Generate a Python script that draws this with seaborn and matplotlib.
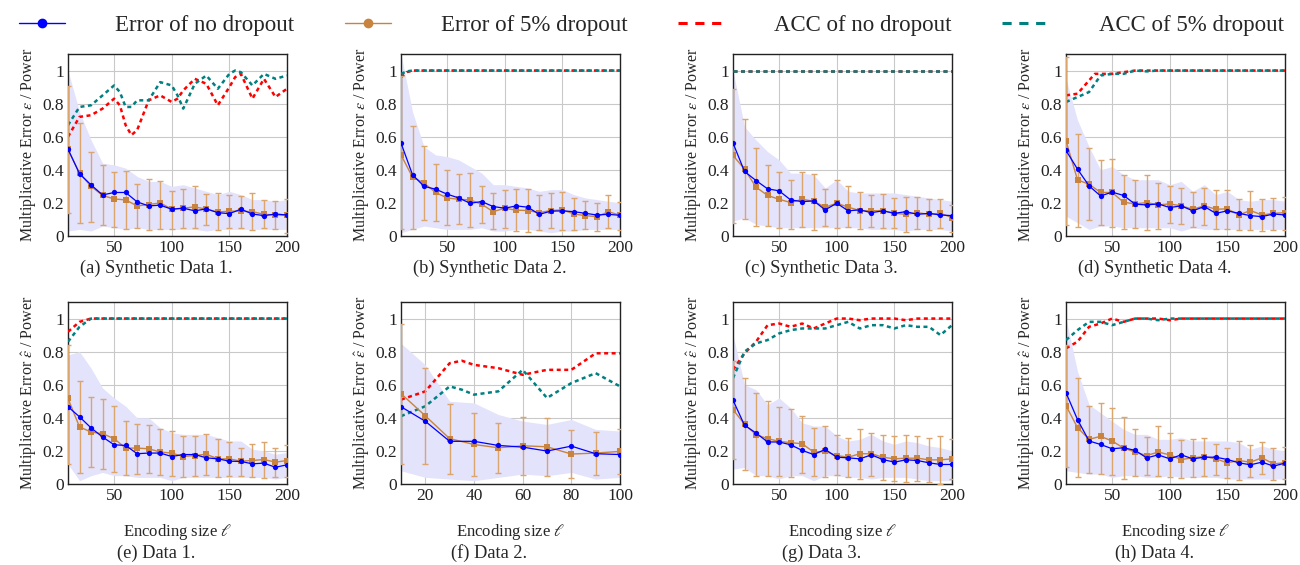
import matplotlib
matplotlib.use("Agg")
import matplotlib.pyplot as plt
from matplotlib.lines import Line2D
from matplotlib.ticker import FuncFormatter
import seaborn as sns

# encoding sizes
x200 = [10, 20, 30, 40, 50, 60, 70, 80, 90, 100, 110, 120, 130, 140, 150, 160, 170, 180, 190, 200]
x100 = [10, 20, 30, 40, 50, 60, 70, 80, 90, 100]

# (a) Synthetic Data 1
a_err0 = [0.525, 0.376, 0.309, 0.248, 0.263, 0.263, 0.206, 0.182, 0.186, 0.162, 0.168, 0.152, 0.164, 0.141, 0.135, 0.162, 0.133, 0.123, 0.133, 0.127]
a_band_lo = [0.03, 0.04, 0.03, 0.06, 0.05, 0.04, 0.05, 0.04, 0.04, 0.04, 0.04, 0.04, 0.03, 0.04, 0.04, 0.04, 0.04, 0.04, 0.04, 0.04]
a_band_hi = [1.0, 0.75, 0.58, 0.44, 0.43, 0.41, 0.36, 0.33, 0.33, 0.30, 0.31, 0.29, 0.27, 0.25, 0.27, 0.25, 0.22, 0.22, 0.21, 0.22]
a_err5 = [0.523, 0.38, 0.30, 0.245, 0.224, 0.218, 0.182, 0.19, 0.20, 0.162, 0.168, 0.176, 0.162, 0.145, 0.15, 0.15, 0.147, 0.131, 0.127, 0.125]
a_bar_lo = [0.14, 0.08, 0.087, 0.065, 0.057, 0.04, 0.048, 0.036, 0.04, 0.04, 0.046, 0.05, 0.067, 0.036, 0.048, 0.05, 0.038, 0.046, 0.042, 0.02]
a_bar_hi = [0.905, 0.68, 0.51, 0.43, 0.388, 0.392, 0.313, 0.343, 0.33, 0.275, 0.283, 0.30, 0.253, 0.259, 0.25, 0.24, 0.259, 0.216, 0.212, 0.226]
a_acc_x = [10, 20, 30, 40, 50, 55, 60, 65, 70, 80, 90, 100, 105, 110, 120, 130, 140, 150, 155, 160, 170, 180, 190, 200]
a_acc0 = [0.60, 0.72, 0.73, 0.77, 0.83, 0.79, 0.67, 0.61, 0.64, 0.82, 0.85, 0.81, 0.83, 0.88, 0.95, 0.92, 0.79, 0.90, 0.96, 0.98, 0.83, 0.95, 0.84, 0.89]
a_acc5 = [0.67, 0.78, 0.79, 0.85, 0.91, 0.87, 0.78, 0.78, 0.82, 0.82, 0.93, 0.91, 0.85, 0.77, 0.92, 0.97, 0.89, 0.98, 1.0, 0.99, 0.91, 0.98, 0.95, 0.97]

# (b) Synthetic Data 2
b_err0 = [0.562, 0.37, 0.30, 0.283, 0.253, 0.23, 0.198, 0.208, 0.178, 0.168, 0.182, 0.174, 0.131, 0.15, 0.152, 0.147, 0.137, 0.127, 0.131, 0.125]
b_band_lo = [0.02, 0.04, 0.06, 0.05, 0.04, 0.04, 0.04, 0.05, 0.03, 0.03, 0.04, 0.04, 0.03, 0.02, 0.03, 0.03, 0.04, 0.04, 0.04, 0.04]
b_band_hi = [1.1, 0.75, 0.54, 0.49, 0.48, 0.46, 0.42, 0.38, 0.31, 0.31, 0.30, 0.29, 0.27, 0.28, 0.28, 0.25, 0.23, 0.22, 0.21, 0.20]
b_err5 = [0.49, 0.356, 0.32, 0.263, 0.23, 0.222, 0.218, 0.192, 0.147, 0.168, 0.156, 0.154, 0.141, 0.154, 0.158, 0.133, 0.123, 0.117, 0.147, 0.125]
b_bar_lo = [0.04, 0.044, 0.097, 0.093, 0.067, 0.071, 0.057, 0.077, 0.04, 0.05, 0.03, 0.026, 0.036, 0.046, 0.036, 0.036, 0.04, 0.03, 0.046, 0.036]
b_bar_hi = [0.965, 0.663, 0.545, 0.436, 0.396, 0.374, 0.382, 0.30, 0.259, 0.279, 0.287, 0.285, 0.245, 0.259, 0.265, 0.232, 0.212, 0.202, 0.245, 0.208]
b_acc_x = [10, 15, 20, 30, 40, 50, 60, 70, 80, 90, 100, 110, 120, 130, 140, 150, 160, 170, 180, 190, 200]
b_acc0 = [0.96, 0.99] + [1.0] * 19
b_acc5 = [0.98, 0.995] + [1.0] * 19

# (c) Synthetic Data 3
c_err0 = [0.562, 0.39, 0.335, 0.285, 0.273, 0.218, 0.208, 0.212, 0.158, 0.198, 0.152, 0.158, 0.141, 0.152, 0.137, 0.147, 0.131, 0.137, 0.127, 0.123]
c_band_lo = [0.09, 0.11, 0.07, 0.06, 0.05, 0.05, 0.05, 0.05, 0.05, 0.05, 0.05, 0.05, 0.04, 0.04, 0.04, 0.03, 0.04, 0.04, 0.04, 0.03]
c_band_hi = [1.0, 0.66, 0.58, 0.51, 0.46, 0.38, 0.38, 0.37, 0.29, 0.34, 0.27, 0.26, 0.26, 0.26, 0.26, 0.25, 0.24, 0.23, 0.22, 0.21]
c_err5 = [0.487, 0.404, 0.295, 0.245, 0.222, 0.202, 0.222, 0.21, 0.174, 0.198, 0.174, 0.154, 0.152, 0.154, 0.137, 0.131, 0.141, 0.131, 0.137, 0.111]
c_bar_lo = [0.081, 0.105, 0.063, 0.06, 0.05, 0.044, 0.057, 0.036, 0.063, 0.05, 0.053, 0.042, 0.057, 0.05, 0.046, 0.022, 0.042, 0.036, 0.046, 0.022]
c_bar_hi = [0.889, 0.707, 0.529, 0.43, 0.386, 0.34, 0.388, 0.376, 0.285, 0.34, 0.30, 0.265, 0.248, 0.253, 0.232, 0.238, 0.238, 0.224, 0.224, 0.188]
c_acc_x = x200
c_acc0 = [1.0] * 20
c_acc5 = [1.0] * 20

# (d) Synthetic Data 4
d_err0 = [0.517, 0.404, 0.303, 0.242, 0.265, 0.245, 0.192, 0.188, 0.194, 0.172, 0.182, 0.152, 0.178, 0.137, 0.152, 0.137, 0.123, 0.117, 0.133, 0.127]
d_band_lo = [0.12, 0.08, 0.04, 0.06, 0.06, 0.05, 0.05, 0.05, 0.05, 0.05, 0.03, 0.05, 0.04, 0.04, 0.04, 0.04, 0.04, 0.04, 0.04, 0.04]
d_band_hi = [0.95, 0.70, 0.54, 0.40, 0.42, 0.37, 0.34, 0.34, 0.34, 0.31, 0.33, 0.27, 0.31, 0.25, 0.27, 0.22, 0.21, 0.22, 0.22, 0.21]
d_err5 = [0.576, 0.339, 0.313, 0.263, 0.263, 0.204, 0.194, 0.202, 0.188, 0.194, 0.182, 0.162, 0.182, 0.162, 0.164, 0.127, 0.154, 0.127, 0.137, 0.141]
d_bar_lo = [0.067, 0.057, 0.097, 0.067, 0.057, 0.04, 0.046, 0.036, 0.042, 0.081, 0.073, 0.057, 0.067, 0.04, 0.04, 0.036, 0.036, 0.03, 0.036, 0.036]
d_bar_hi = [1.08, 0.618, 0.531, 0.457, 0.465, 0.366, 0.34, 0.366, 0.323, 0.30, 0.289, 0.267, 0.293, 0.279, 0.279, 0.224, 0.273, 0.224, 0.232, 0.238]
d_acc_x = [10, 20, 30, 35, 40, 50, 60, 70, 80, 90, 100, 110, 120, 130, 140, 150, 160, 170, 180, 190, 200]
d_acc0 = [0.85, 0.86, 0.94, 0.98, 0.98, 0.98, 0.99, 1.0, 1.0, 1.0, 1.0, 1.0, 1.0, 1.0, 1.0, 1.0, 1.0, 1.0, 1.0, 1.0, 1.0]
d_acc5 = [0.81, 0.84, 0.87, 0.92, 0.97, 0.98, 0.98, 1.0, 0.995, 1.0, 1.0, 1.0, 1.0, 1.0, 1.0, 1.0, 1.0, 1.0, 1.0, 1.0, 1.0]

# (e) Data 1
e_err0 = [0.467, 0.406, 0.339, 0.284, 0.237, 0.233, 0.183, 0.187, 0.187, 0.166, 0.178, 0.178, 0.158, 0.152, 0.138, 0.136, 0.122, 0.126, 0.101, 0.116]
e_band_lo = [0.12, 0.02, 0.05, 0.07, 0.05, 0.05, 0.04, 0.04, 0.04, 0.02, 0.04, 0.04, 0.04, 0.04, 0.04, 0.04, 0.04, 0.04, 0.03, 0.04]
e_band_hi = [0.78, 0.80, 0.70, 0.58, 0.52, 0.47, 0.40, 0.40, 0.34, 0.31, 0.30, 0.30, 0.30, 0.28, 0.26, 0.26, 0.21, 0.20, 0.18, 0.19]
e_err5 = [0.517, 0.345, 0.314, 0.304, 0.274, 0.217, 0.217, 0.213, 0.193, 0.187, 0.166, 0.172, 0.18, 0.152, 0.152, 0.138, 0.142, 0.148, 0.132, 0.142]
e_bar_lo = [0.12, 0.067, 0.101, 0.091, 0.075, 0.057, 0.061, 0.067, 0.057, 0.051, 0.041, 0.047, 0.057, 0.041, 0.047, 0.047, 0.041, 0.037, 0.045, 0.045]
e_bar_hi = [0.84, 0.625, 0.527, 0.511, 0.473, 0.379, 0.365, 0.359, 0.331, 0.318, 0.288, 0.29, 0.30, 0.27, 0.254, 0.219, 0.239, 0.254, 0.217, 0.233]
e_acc_x = x200
e_acc0 = [0.92, 0.98] + [1.0] * 18
e_acc5 = [0.86, 0.95] + [1.0] * 18

# (f) Data 2
f_err0 = [0.467, 0.379, 0.258, 0.258, 0.233, 0.223, 0.199, 0.229, 0.183, 0.178]
f_band_lo = [0.08, 0.04, 0.03, 0.02, 0.04, 0.06, 0.05, 0.07, 0.03, 0.04]
f_band_hi = [0.85, 0.72, 0.50, 0.49, 0.42, 0.38, 0.36, 0.39, 0.33, 0.32]
f_err5 = [0.546, 0.412, 0.274, 0.239, 0.219, 0.231, 0.225, 0.181, 0.187, 0.197]
f_bar_lo = [0.122, 0.122, 0.061, 0.051, 0.067, 0.055, 0.051, 0.034, 0.057, 0.061]
f_bar_hi = [0.968, 0.70, 0.483, 0.43, 0.371, 0.406, 0.396, 0.329, 0.314, 0.331]
f_acc_x = [10, 20, 30, 35, 40, 50, 60, 70, 80, 90, 100]
f_acc0 = [0.51, 0.56, 0.73, 0.745, 0.72, 0.70, 0.66, 0.69, 0.69, 0.79, 0.79]
f_acc5 = [0.41, 0.47, 0.59, 0.57, 0.54, 0.56, 0.69, 0.52, 0.61, 0.67, 0.59]

# (g) Data 3
g_err0 = [0.507, 0.355, 0.308, 0.254, 0.254, 0.237, 0.203, 0.178, 0.209, 0.162, 0.158, 0.152, 0.176, 0.148, 0.132, 0.146, 0.142, 0.128, 0.118, 0.118]
g_band_lo = [0.09, 0.10, 0.05, 0.05, 0.03, 0.05, 0.05, 0.02, 0.05, 0.05, 0.04, 0.04, 0.03, 0.04, 0.04, 0.04, 0.03, 0.02, 0.02, 0.02]
g_band_hi = [0.90, 0.60, 0.57, 0.48, 0.52, 0.46, 0.37, 0.35, 0.35, 0.29, 0.26, 0.27, 0.30, 0.26, 0.24, 0.26, 0.25, 0.23, 0.22, 0.20]
g_err5 = [0.45, 0.361, 0.298, 0.274, 0.258, 0.25, 0.243, 0.193, 0.197, 0.172, 0.162, 0.183, 0.183, 0.162, 0.152, 0.156, 0.156, 0.146, 0.146, 0.152]
g_bar_lo = [0.152, 0.085, 0.047, 0.051, 0.047, 0.045, 0.067, 0.047, 0.041, 0.055, 0.041, 0.03, 0.051, 0.024, 0.016, 0.014, 0.016, 0.01, 0.0, 0.03]
g_bar_hi = [0.746, 0.639, 0.552, 0.501, 0.467, 0.456, 0.41, 0.339, 0.349, 0.294, 0.28, 0.335, 0.31, 0.294, 0.288, 0.294, 0.29, 0.278, 0.288, 0.27]
g_acc_x = x200
g_acc0 = [0.69, 0.79, 0.86, 0.96, 0.97, 0.95, 0.97, 0.94, 0.97, 1.0, 1.0, 0.99, 1.0, 1.0, 1.0, 0.99, 1.0, 1.0, 1.0, 1.0]
g_acc5 = [0.64, 0.80, 0.85, 0.87, 0.91, 0.93, 0.94, 0.94, 0.94, 0.96, 0.98, 0.94, 0.96, 0.96, 0.94, 0.96, 0.95, 0.95, 0.90, 0.96]

# (h) Data 4
h_err0 = [0.552, 0.389, 0.26, 0.239, 0.213, 0.219, 0.203, 0.158, 0.176, 0.152, 0.176, 0.152, 0.162, 0.162, 0.148, 0.128, 0.116, 0.132, 0.108, 0.126]
h_band_lo = [0.08, 0.07, 0.06, 0.06, 0.04, 0.05, 0.05, 0.04, 0.04, 0.05, 0.04, 0.04, 0.04, 0.04, 0.03, 0.03, 0.03, 0.03, 0.03, 0.03]
h_band_hi = [1.0, 0.68, 0.48, 0.43, 0.38, 0.33, 0.30, 0.30, 0.27, 0.27, 0.28, 0.26, 0.26, 0.26, 0.26, 0.25, 0.21, 0.23, 0.21, 0.20]
h_err5 = [0.473, 0.341, 0.27, 0.288, 0.26, 0.217, 0.193, 0.172, 0.193, 0.176, 0.148, 0.158, 0.166, 0.152, 0.128, 0.142, 0.132, 0.158, 0.122, 0.128]
h_bar_lo = [0.105, 0.041, 0.065, 0.061, 0.057, 0.03, 0.051, 0.057, 0.051, 0.045, 0.034, 0.041, 0.051, 0.055, 0.037, 0.026, 0.045, 0.061, 0.026, 0.03]
h_bar_hi = [0.84, 0.639, 0.473, 0.487, 0.46, 0.402, 0.335, 0.284, 0.351, 0.308, 0.264, 0.274, 0.278, 0.243, 0.219, 0.258, 0.233, 0.254, 0.217, 0.223]
h_acc_x = x200
h_acc0 = [0.82, 0.86, 0.95, 0.97, 1.0, 0.98, 1.0, 1.0, 1.0, 0.99] + [1.0] * 10
h_acc5 = [0.87, 0.93, 0.98, 0.98, 0.96, 0.98, 1.0, 1.0, 0.99, 1.0] + [1.0] * 10

captions = ["(a) Synthetic Data 1.", "(b) Synthetic Data 2.", "(c) Synthetic Data 3.", "(d) Synthetic Data 4.",
            "(e) Data 1.", "(f) Data 2.", "(g) Data 3.", "(h) Data 4."]

panels = [
    (x200, a_err0, a_band_lo, a_band_hi, a_err5, a_bar_lo, a_bar_hi, a_acc_x, a_acc0, a_acc5),
    (x200, b_err0, b_band_lo, b_band_hi, b_err5, b_bar_lo, b_bar_hi, b_acc_x, b_acc0, b_acc5),
    (x200, c_err0, c_band_lo, c_band_hi, c_err5, c_bar_lo, c_bar_hi, c_acc_x, c_acc0, c_acc5),
    (x200, d_err0, d_band_lo, d_band_hi, d_err5, d_bar_lo, d_bar_hi, d_acc_x, d_acc0, d_acc5),
    (x200, e_err0, e_band_lo, e_band_hi, e_err5, e_bar_lo, e_bar_hi, e_acc_x, e_acc0, e_acc5),
    (x100, f_err0, f_band_lo, f_band_hi, f_err5, f_bar_lo, f_bar_hi, f_acc_x, f_acc0, f_acc5),
    (x200, g_err0, g_band_lo, g_band_hi, g_err5, g_bar_lo, g_bar_hi, g_acc_x, g_acc0, g_acc5),
    (x200, h_err0, h_band_lo, h_band_hi, h_err5, h_bar_lo, h_bar_hi, h_acc_x, h_acc0, h_acc5),
]

BLUE = "#0000ff"
ORANGE = "#c8843f"
ORANGE_LIGHT = "#dba56e"
RED = "#ff0000"
TEAL = "#008080"
BAND = "#e3e3fb"

sns.set_theme(style="whitegrid")
plt.rcParams['font.family'] = ['Liberation Serif', 'DejaVu Serif']
plt.rcParams['mathtext.fontset'] = 'stix'

W, H = 1300, 565
fig = plt.figure(figsize=(13, 5.65), dpi=100)

lefts = [68, 401, 733, 1066]
tops = [54, 302]
aw, ah = 219, 182
cap_y = [268, 553]   # caption centres, pixels from top

for i, (xs, err0, blo, bhi, err5, elo, ehi, ax_acc, acc0, acc5) in enumerate(panels):
    row, col = divmod(i, 4)
    left = lefts[col]
    top = tops[row]
    ax = fig.add_axes([left / W, (H - top - ah) / H, aw / W, ah / H])

    ax.fill_between(xs, blo, bhi, color=BAND, lw=0, zorder=1)
    sns.lineplot(x=ax_acc, y=acc0, ax=ax, color=RED, lw=1.8, linestyle=(0, (1.6, 1.4)), zorder=3)
    sns.lineplot(x=ax_acc, y=acc5, ax=ax, color=TEAL, lw=1.8, linestyle=(0, (1.6, 1.4)), zorder=3)
    yerr = [[v - lo for v, lo in zip(err5, elo)], [hi - v for v, hi in zip(err5, ehi)]]
    ax.errorbar(xs, err5, yerr=yerr, fmt='none', ecolor=ORANGE_LIGHT, elinewidth=1.0,
                capsize=2, capthick=1.0, zorder=4)
    sns.lineplot(x=xs, y=err5, ax=ax, color=ORANGE, lw=1.0, marker='s', markersize=4,
                 markeredgewidth=0, zorder=5)
    sns.lineplot(x=xs, y=err0, ax=ax, color=BLUE, lw=0.9, marker='o', markersize=3.8,
                 markeredgewidth=0, zorder=6)

    ax.set_xlim(xs[0], xs[-1])
    ax.set_ylim(0, 1.1)
    ax.set_yticks([0, 0.2, 0.4, 0.6, 0.8, 1.0])
    if xs[-1] == 100:
        ax.set_xticks([20, 40, 60, 80, 100])
    else:
        ax.set_xticks([50, 100, 150, 200])
    ax.yaxis.set_major_formatter(FuncFormatter(lambda v, p: "%g" % v))
    ax.tick_params(labelsize=12.5, length=0, pad=3, colors="#222222")
    ax.grid(True, color="#c9c9c9", lw=0.8)
    for s in ax.spines.values():
        s.set_color("#222222")
        s.set_linewidth(1.0)
    if row == 0:
        ax.set_ylabel(r"Multiplicative Error $\epsilon$ / Power", fontsize=11.5, labelpad=3)
    else:
        ax.set_ylabel(r"Multiplicative Error $\hat{\epsilon}$ / Power", fontsize=11.5, labelpad=3)
        ax.set_xlabel(r"Encoding size $\ell$", fontsize=12, labelpad=13)
    # subfigure caption, centred on the whole subfigure (axes plus y label)
    fig.text((left + aw / 2 - 21) / W, 1 - cap_y[row] / H, captions[i],
             ha='center', va='center', fontsize=13.2)

handles = [
    Line2D([], [], color=BLUE, lw=1.0, marker='o', markersize=6),
    Line2D([], [], color=ORANGE, lw=1.0, marker='o', markersize=6),
    Line2D([], [], color=RED, lw=2.2, linestyle=(0, (3, 2.5))),
    Line2D([], [], color=TEAL, lw=2.2, linestyle=(0, (3, 2.5))),
]
labels = ["Error of no dropout", "Error of 5% dropout", "ACC of no dropout", "ACC of 5% dropout"]
fig.legend(handles, labels, loc='upper center', bbox_to_anchor=(0.501, 1.01), ncol=4, frameon=False,
           fontsize=16.5, handlelength=2.0, handletextpad=2.2, columnspacing=2.2)

fig.savefig("out.png", dpi=100)
